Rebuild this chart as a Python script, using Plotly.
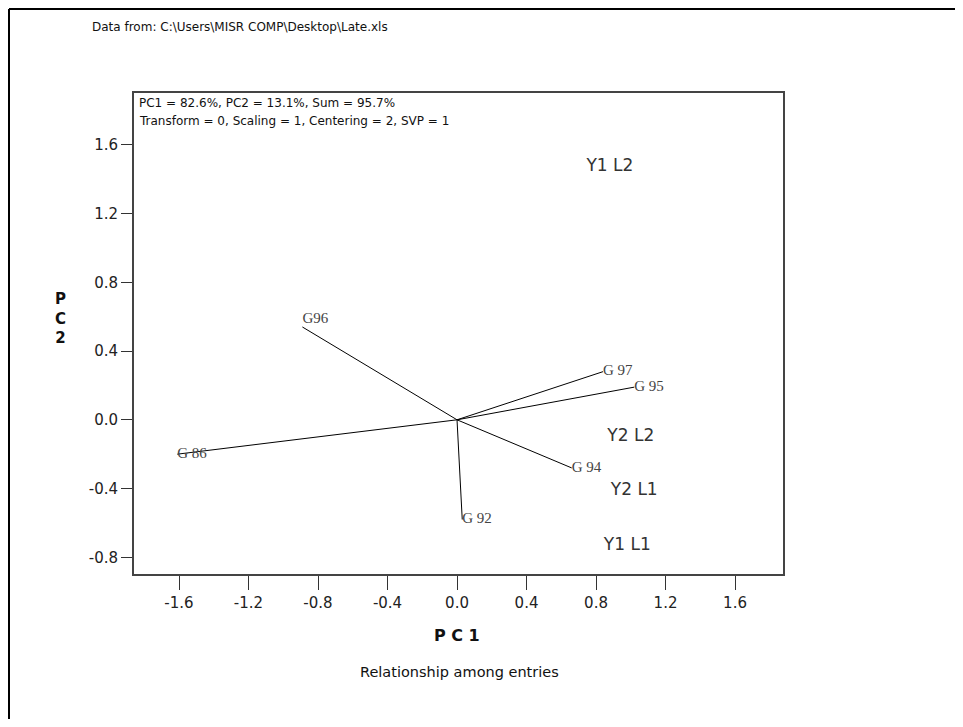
import plotly.graph_objects as go

# Genotype vectors (PC1, PC2)
genotypes = ["G96", "G 97", "G 95", "G 94", "G 92", "G 86"]
g_pc1 = [-0.89, 0.84, 1.02, 0.66, 0.03, -1.61]
g_pc2 = [0.54, 0.28, 0.19, -0.28, -0.58, -0.20]
g_pos = ["top right", "middle right", "middle right", "middle right", "middle right", "middle right"]

# Environment points (PC1, PC2)
environments = ["Y1 L2", "Y2 L2", "Y2 L1", "Y1 L1"]
e_pc1 = [0.88, 1.00, 1.02, 0.98]
e_pc2 = [1.47, -0.10, -0.41, -0.73]

xticks = [-1.6, -1.2, -0.8, -0.4, 0.0, 0.4, 0.8, 1.2, 1.6]
xticklabels = ["-1.6", "-1.2", "-0.8", "-0.4", "0.0", "0.4", "0.8", "1.2", "1.6"]
yticks = [-0.8, -0.4, 0.0, 0.4, 0.8, 1.2, 1.6]
yticklabels = ["-0.8", "-0.4", "0.0", "0.4", "0.8", "1.2", "1.6"]

OFF = 8  # page body margin
W, H = 963 - 2 * OFF, 727 - 2 * OFF
L, R, T, B = 134 - OFF, 783 - OFF, 93 - OFF, 574 - OFF

SANS = "DejaVu Sans"

def px(x):
    return (x - OFF - L) / (R - L)

def py(y):
    return (B - (y - OFF)) / (B - T)

fig = go.Figure()

for name, x, y in zip(genotypes, g_pc1, g_pc2):
    fig.add_trace(go.Scatter(x=[0, x], y=[0, y], mode="lines",
                             line=dict(color="black", width=1),
                             hoverinfo="skip", showlegend=False))

fig.add_trace(go.Scatter(x=g_pc1, y=g_pc2, mode="text", text=genotypes,
                         textposition=g_pos,
                         textfont=dict(family="Liberation Serif", size=15, color="#444444"),
                         showlegend=False))

fig.add_trace(go.Scatter(x=e_pc1, y=e_pc2, mode="text", text=environments,
                         textposition="middle center",
                         textfont=dict(family=SANS, size=17, color="#333333"),
                         showlegend=False))

axis_common = dict(showgrid=False, zeroline=False, showline=True, linecolor="#444444",
                   linewidth=2, mirror=True, ticks="outside",
                   tickcolor="#333333", tickwidth=1,
                   tickfont=dict(family=SANS, size=15, color="#222222"))

fig.update_xaxes(range=[-1.859, 1.876], tickvals=xticks, ticktext=xticklabels,
                 ticklen=14, **axis_common)
fig.update_yaxes(range=[-0.897, 1.901], tickvals=yticks, ticktext=yticklabels,
                 ticklen=11, **axis_common)

annotations = [
    dict(x=px(90), y=py(27), text="Data from: C:\\Users\\MISR COMP\\Desktop\\Late.xls",
         xanchor="left", yanchor="middle", font=dict(size=12)),
    dict(x=px(137), y=py(103), text="PC1 = 82.6%, PC2 = 13.1%, Sum = 95.7%",
         xanchor="left", yanchor="middle", font=dict(size=12)),
    dict(x=px(137), y=py(121), text="Transform = 0, Scaling = 1, Centering = 2, SVP = 1",
         xanchor="left", yanchor="middle", font=dict(size=12)),
    dict(x=px(60), y=py(318), text="<b>P<br>C<br>2</b>", xanchor="center", yanchor="middle",
         font=dict(size=15)),
    dict(x=px(457), y=py(635), text="<b>P C 1</b>", xanchor="center", yanchor="middle",
         font=dict(size=16)),
    dict(x=px(459), y=py(672), text="Relationship among entries", xanchor="center",
         yanchor="middle", font=dict(size=14.5)),
]
for a in annotations:
    a.update(xref="paper", yref="paper", showarrow=False)
    a["font"].update(family=SANS, color="#111111")

fig.update_layout(
    width=W, height=H,
    margin=dict(l=L, r=W - R, t=T, b=H - B),
    plot_bgcolor="white", paper_bgcolor="white",
    annotations=annotations,
    shapes=[
        dict(type="line", xref="paper", yref="paper",
             x0=px(9), x1=px(963), y0=py(9), y1=py(9),
             line=dict(color="black", width=2)),
        dict(type="line", xref="paper", yref="paper",
             x0=px(9), x1=px(9), y0=py(9), y1=py(727),
             line=dict(color="black", width=2)),
    ],
)

fig.write_html("out.html")
